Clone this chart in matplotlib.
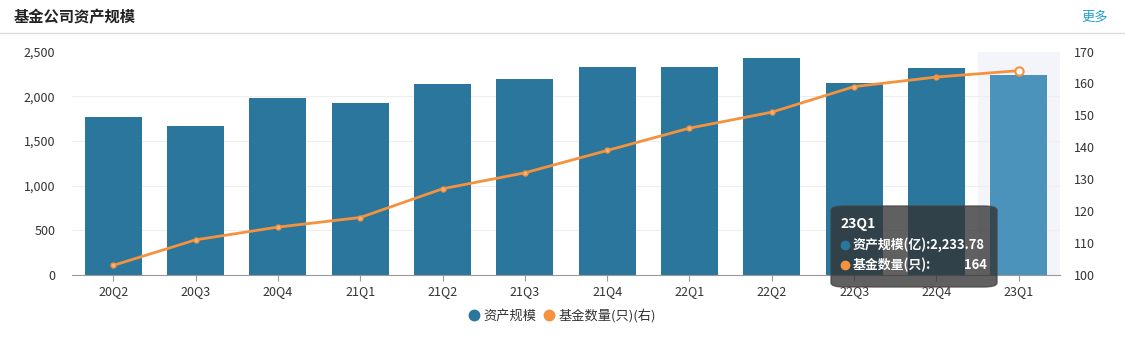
import matplotlib
matplotlib.use("Agg")
from matplotlib import pyplot as plt
from matplotlib.patches import FancyBboxPatch
from matplotlib.lines import Line2D
from matplotlib.ticker import FuncFormatter

plt.rcParams['font.family'] = ['Noto Sans CJK SC', 'DejaVu Sans']

# Data
quarters = ['20Q2', '20Q3', '20Q4', '21Q1', '21Q2', '21Q3',
            '21Q4', '22Q1', '22Q2', '22Q3', '22Q4', '23Q1']
asset_scale = [1765, 1672, 1982, 1922, 2138, 2195,
               2325, 2324, 2426, 2148, 2311, 2233.78]
fund_count = [103, 111, 115, 118, 127, 132, 139, 146, 151, 159, 162, 164]

bar_color = '#2b769d'
bar_hl_color = '#4b93bb'
line_color = '#f5923e'
text_color = '#333333'

fig = plt.figure(figsize=(11.25, 3.44), dpi=100)

# header
fig.text(14 / 1125, 1 - 17 / 344, '基金公司资产规模', fontsize=11, fontweight='bold',
         color='#222222', va='center', ha='left')
fig.text(1108 / 1125, 1 - 17 / 344, '更多', fontsize=9.5, color='#1ea0c8',
         va='center', ha='right')
fig.add_artist(Line2D([0, 1], [1 - 33 / 344, 1 - 33 / 344], color='#dddddd', lw=1))

ax = fig.add_axes([72 / 1125, 1 - 275 / 344, 988 / 1125, 223.5 / 344])
ax2 = ax.twinx()
ax.set_zorder(ax2.get_zorder() - 1)
ax2.patch.set_visible(False)

x = list(range(len(quarters)))
colors = [bar_color] * (len(quarters) - 1) + [bar_hl_color]

# hover band behind last category
ax.axvspan(len(quarters) - 1.5, len(quarters) - 0.5, color='#f3f5fa', zorder=0)
ax.bar(x, asset_scale, width=0.69, color=colors, zorder=2)

ax.set_xlim(-0.5, len(quarters) - 0.5)
ax.set_ylim(0, 2500)
ax.set_yticks([0, 500, 1000, 1500, 2000, 2500])
ax.yaxis.set_major_formatter(FuncFormatter(lambda v, p: f'{int(v):,}'))
ax.grid(axis='y', color='#eeeeee', lw=0.8, zorder=0)
ax.set_xticks(x)
ax.set_xticklabels(quarters)

ax2.plot(x[:-1], fund_count[:-1], color=line_color, lw=2, marker='o', markersize=3.5,
         markerfacecolor='#f8b37a', markeredgecolor=line_color, zorder=3)
ax2.plot(x[-2:], fund_count[-2:], color=line_color, lw=2, zorder=3)
ax2.plot(x[-1], fund_count[-1], marker='o', markersize=6, markerfacecolor='white',
         markeredgecolor=line_color, markeredgewidth=1.5, zorder=4)
ax2.set_ylim(100, 170)
ax2.set_yticks(range(100, 171, 10))

for a in (ax, ax2):
    for s in a.spines.values():
        s.set_visible(False)
    a.tick_params(axis='y', length=0, labelsize=9, labelcolor=text_color)
ax.spines['bottom'].set_visible(True)
ax.spines['bottom'].set_color('#999999')
ax.tick_params(axis='x', length=4, color='#999999', labelsize=9, labelcolor=text_color, pad=3)
ax.tick_params(axis='y', pad=12)
ax2.tick_params(axis='y', pad=10)

# tooltip
tip = FancyBboxPatch((831 / 1125, 1 - 287 / 344), 166 / 1125, 81 / 344,
                     boxstyle='round,pad=0,rounding_size=0.012',
                     transform=fig.transFigure, facecolor='#333333', alpha=0.78,
                     edgecolor='#444444', lw=1, zorder=10)
fig.add_artist(tip)
fig.text(840 / 1125, 1 - 224 / 344, quarters[-1], fontsize=10, color='white',
         fontweight='bold', va='center', zorder=11)
fig.add_artist(Line2D([845 / 1125], [1 - 245 / 344], marker='o', markersize=6,
                      color=bar_color, zorder=11))
fig.text(853 / 1125, 1 - 245 / 344, f'资产规模(亿):{asset_scale[-1]:,.2f}', fontsize=9.3,
         color='white', fontweight='bold', va='center', zorder=11)
fig.add_artist(Line2D([845 / 1125], [1 - 265 / 344], marker='o', markersize=6,
                      color=line_color, zorder=11))
fig.text(853 / 1125, 1 - 265 / 344, '基金数量(只):', fontsize=9.3,
         color='white', fontweight='bold', va='center', zorder=11)
fig.text(987 / 1125, 1 - 265 / 344, f'{fund_count[-1]}', fontsize=9.3,
         color='white', fontweight='bold', va='center', ha='right', zorder=11)

# legend
handles = [Line2D([], [], marker='o', ls='', markersize=7.5, color=bar_color),
           Line2D([], [], marker='o', ls='', markersize=7.5, color=line_color)]
fig.legend(handles, ['资产规模', '基金数量(只)(右)'], loc='center',
           bbox_to_anchor=(0.5, 1 - 316 / 344), ncol=2, frameon=False,
           fontsize=9.5, handlelength=0.8, handletextpad=0.3, columnspacing=0.6,
           labelcolor=text_color)

fig.savefig('out.png', dpi=100)
